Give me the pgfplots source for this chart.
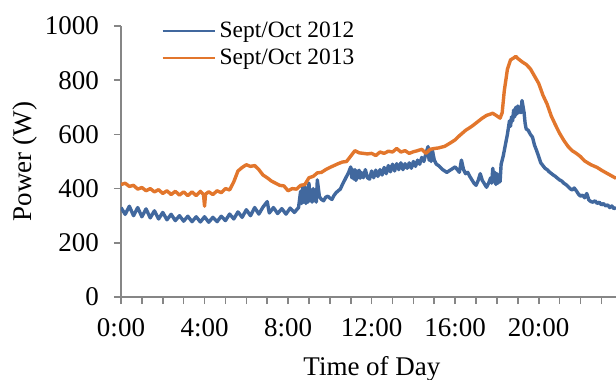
\documentclass[border=0pt]{standalone}
\usepackage{fontspec}
\setmainfont{Liberation Serif}
\usepackage{pgfplots}
\pgfplotsset{compat=1.18}
\definecolor{b12}{RGB}{65,104,158}
\definecolor{o13}{RGB}{226,118,44}
\definecolor{axg}{RGB}{134,134,134}
\begin{document}
\begin{tikzpicture}
\begin{axis}[
  scale only axis, width=247.5pt, height=135.5pt,
  xmin=0, xmax=23.7, ymin=0, ymax=1000,
  axis x line*=bottom, axis y line*=left,
  axis line style={axg, line width=1pt},
  tick style={axg, line width=0.8pt},
  major tick length=3.5pt, minor tick length=3.5pt,
  tick align=outside,
  xtick={0,4,8,12,16,20},
  xticklabels={0:00,4:00,8:00,12:00,16:00,20:00},
  minor xtick={1,2,3,5,6,7,9,10,11,13,14,15,17,18,19,21,22,23},
  ytick={0,200,400,600,800,1000},
  /pgf/number format/assume math mode=true,
  /pgf/number format/1000 sep={},
  ticklabel style={font=\fontsize{13.5}{16}\selectfont, text=black},
  yticklabel style={xshift=-4pt},
  xticklabel style={yshift=-3.5pt},
  xlabel={Time of Day}, ylabel={Power (W)},
  label style={font=\fontsize{13.5}{16}\selectfont},
  xlabel style={at={(axis description cs:0.507,-0.288)}, anchor=base},
  ylabel style={at={(axis description cs:-0.194,0.5)}, anchor=center},
  legend style={at={(rel axis cs:0.081,1.033)}, anchor=north west, draw=none, fill=none,
    inner sep=0pt, font=\fontsize{11.7}{14}\selectfont, row sep=0.5pt},
  legend cell align=left,
  legend image code/.code={\draw[#1,line width=1.1pt] (0pt,0pt)--(26pt,0pt);},
  every axis plot/.append style={line width=1.7pt, line join=round, mark=none},
]
\coordinate (bl) at (rel axis cs:0,0);
\addplot[b12] coordinates {
(0.0,330)(0.2,305)(0.4,335)(0.6,300)(0.8,330)(1.0,296)(1.2,325)(1.4,292)(1.6,318)(1.8,288)
(2.0,312)(2.2,285)(2.4,305)(2.6,282)(2.8,300)(3.0,280)(3.2,298)(3.4,278)(3.6,296)(3.8,277)
(4.0,296)(4.2,276)(4.4,294)(4.6,278)(4.8,298)(5.0,282)(5.2,306)(5.4,288)(5.6,314)(5.8,294)
(6.0,322)(6.2,300)(6.4,330)(6.6,306)(6.8,332)(7.0,352)(7.1,310)(7.3,330)(7.5,308)(7.7,326)
(7.9,306)(8.1,328)(8.3,312)(8.5,330)(8.6,390)(8.65,345)(8.7,405)(8.75,350)(8.8,410)(8.85,345)
(8.9,400)(8.95,350)(9.0,420)(9.05,355)(9.1,395)(9.15,350)(9.2,400)(9.25,355)(9.3,380)(9.35,350)
(9.4,432)(9.5,370)(9.6,360)(9.7,355)(9.8,368)(9.9,372)(10.0,365)(10.1,360)(10.2,375)(10.3,385)
(10.4,392)(10.5,398)(10.6,415)(10.7,430)(10.8,445)(10.9,460)(11.0,480)(11.05,440)(11.1,470)(11.15,435)
(11.2,470)(11.25,430)(11.3,465)(11.35,440)(11.4,468)(11.45,438)(11.5,460)(11.6,440)(11.7,470)(11.8,440)
(11.9,435)(12.0,465)(12.1,440)(12.2,468)(12.3,445)(12.4,470)(12.5,450)(12.6,478)(12.7,455)(12.8,485)
(12.9,462)(13.0,490)(13.1,465)(13.2,492)(13.3,470)(13.4,495)(13.5,470)(13.6,492)(13.7,475)(13.8,495)
(13.9,475)(14.0,500)(14.1,482)(14.2,505)(14.3,490)(14.4,515)(14.5,500)(14.6,530)(14.7,555)(14.75,505)
(14.8,540)(14.85,500)(14.9,545)(15.0,505)(15.1,490)(15.2,485)(15.4,470)(15.6,460)(15.8,470)(16.0,480)
(16.1,470)(16.2,460)(16.3,505)(16.4,470)(16.5,455)(16.6,460)(16.7,445)(16.9,420)(17.0,412)(17.1,430)
(17.2,455)(17.3,430)(17.4,418)(17.5,405)(17.6,420)(17.7,440)(17.75,420)(17.8,475)(17.85,425)(17.9,460)
(17.95,415)(18.0,455)(18.05,420)(18.1,450)(18.15,425)(18.2,490)(18.3,520)(18.4,560)(18.5,600)(18.6,650)
(18.65,630)(18.7,665)(18.75,650)(18.8,690)(18.85,665)(18.9,700)(18.95,675)(19.0,705)(19.05,680)(19.1,700)
(19.15,680)(19.2,725)(19.3,680)(19.35,640)(19.4,620)(19.5,615)(19.6,600)(19.7,590)(19.8,560)(19.9,540)
(20.0,518)(20.1,495)(20.2,485)(20.3,475)(20.4,470)(20.5,462)(20.6,456)(20.7,450)(20.8,445)(20.9,438)
(21.0,432)(21.1,428)(21.2,420)(21.3,415)(21.4,408)(21.5,400)(21.6,395)(21.7,402)(21.8,392)(21.9,380)
(22.0,372)(22.1,376)(22.2,366)(22.3,382)(22.4,358)(22.5,352)(22.6,350)(22.7,355)(22.8,345)(22.9,350)
(23.0,340)(23.1,345)(23.2,336)(23.3,340)(23.4,330)(23.5,336)(23.6,326)(23.7,330)
};
\addlegendentry{Sept/Oct 2012}
\addplot[o13] coordinates {
(0.0,415)(0.2,420)(0.4,408)(0.6,412)(0.8,398)(1.0,404)(1.2,392)(1.4,400)(1.6,388)(1.8,396)
(2.0,382)(2.2,392)(2.4,378)(2.6,390)(2.8,376)(3.0,388)(3.2,374)(3.4,388)(3.6,374)(3.8,390)
(3.95,378)(4.0,335)(4.05,380)(4.2,388)(4.4,378)(4.6,392)(4.8,385)(5.0,400)(5.2,395)(5.4,425)
(5.6,465)(5.8,478)(6.0,488)(6.2,482)(6.4,485)(6.6,470)(6.8,450)(7.0,440)(7.2,428)(7.4,420)
(7.6,412)(7.8,410)(8.0,392)(8.2,400)(8.4,398)(8.6,412)(8.8,415)(9.0,440)(9.2,445)(9.4,458)
(9.6,460)(9.8,470)(10.0,478)(10.2,485)(10.4,492)(10.6,498)(10.8,500)(11.0,520)(11.2,540)(11.4,532)
(11.6,530)(11.8,528)(12.0,530)(12.2,522)(12.4,535)(12.6,530)(12.8,538)(13.0,535)(13.2,548)(13.4,535)
(13.6,540)(13.8,530)(14.0,536)(14.2,540)(14.4,545)(14.6,530)(14.8,545)(15.0,548)(15.2,550)(15.5,556)
(15.8,570)(16.0,580)(16.2,595)(16.5,615)(16.8,630)(17.0,642)(17.3,660)(17.5,670)(17.8,678)(18.0,668)
(18.15,660)(18.25,680)(18.35,760)(18.5,840)(18.65,875)(18.8,882)(18.9,888)(19.0,880)(19.2,868)(19.4,858)
(19.6,842)(19.8,815)(20.0,788)(20.2,745)(20.4,712)(20.6,668)(20.8,635)(21.0,604)(21.2,578)(21.4,556)
(21.6,540)(21.8,530)(22.0,518)(22.2,502)(22.5,488)(22.8,478)(23.0,468)(23.3,455)(23.7,438)
};
\addlegendentry{Sept/Oct 2013}
\end{axis}
\pgfresetboundingbox
\path[shift={(bl)}] (-60.5pt,-41.5pt) rectangle (247.5pt,148.5pt);
\end{tikzpicture}
\end{document}
